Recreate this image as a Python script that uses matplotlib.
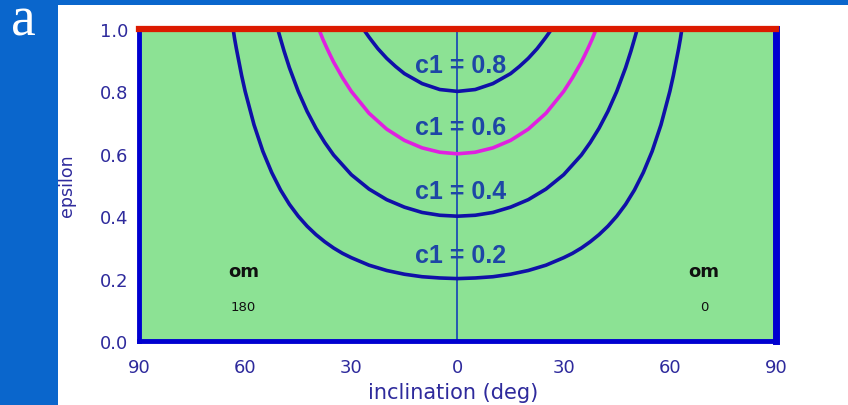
import matplotlib
matplotlib.use("Agg")
import matplotlib.pyplot as plt
from matplotlib.patches import Rectangle

# ---- data ----
c1_labels = ["c1 = 0.2", "c1 = 0.4", "c1 = 0.6", "c1 = 0.8"]
label_eps = [0.275, 0.48, 0.685, 0.885]

inc_02 = [-63.4, -63, -62.5, -61, -60, -57.5, -55, -52.5, -50, -47.5, -45, -42.5, -40, -37.5, -35,
          -32.5, -30, -25, -20, -15, -10, -5, 0,
          5, 10, 15, 20, 25, 30, 32.5, 35, 37.5, 40, 42.5, 45, 47.5, 50, 52.5, 55, 57.5, 60,
          61, 62.5, 63, 63.4]
eps_02 = [1.0, 0.970, 0.938, 0.851, 0.800, 0.693, 0.608, 0.540, 0.484, 0.438, 0.400, 0.368, 0.341, 0.318, 0.298,
          0.281, 0.267, 0.243, 0.226, 0.214, 0.206, 0.202, 0.200,
          0.202, 0.206, 0.214, 0.226, 0.243, 0.267, 0.281, 0.298, 0.318, 0.341, 0.368, 0.400, 0.438, 0.484, 0.540, 0.608, 0.693, 0.800,
          0.851, 0.938, 0.970, 1.0]

inc_04 = [-50.8, -50, -49, -47.5, -45, -42.5, -40, -37.5, -35, -30, -25, -20, -15, -10, -5, 0,
          5, 10, 15, 20, 25, 30, 35, 37.5, 40, 42.5, 45, 47.5, 49, 50, 50.8]
eps_04 = [1.0, 0.968, 0.929, 0.876, 0.800, 0.736, 0.682, 0.636, 0.596, 0.533, 0.487, 0.453, 0.429, 0.412, 0.403, 0.400,
          0.403, 0.412, 0.429, 0.453, 0.487, 0.533, 0.596, 0.636, 0.682, 0.736, 0.800, 0.876, 0.929, 0.968, 1.0]

inc_06 = [-39.2, -38, -37, -36, -35, -32.5, -30, -25, -20, -15, -10, -5, 0,
          5, 10, 15, 20, 25, 30, 32.5, 35, 36, 37, 38, 39.2]
eps_06 = [1.0, 0.966, 0.941, 0.917, 0.894, 0.844, 0.800, 0.730, 0.679, 0.643, 0.619, 0.605, 0.600,
          0.605, 0.619, 0.643, 0.679, 0.730, 0.800, 0.844, 0.894, 0.917, 0.941, 0.966, 1.0]

inc_08 = [-26.6, -26, -25, -24, -22.5, -20, -17.5, -15, -10, -5, 0,
          5, 10, 15, 17.5, 20, 22.5, 24, 25, 26, 26.6]
eps_08 = [1.0, 0.990, 0.974, 0.959, 0.937, 0.906, 0.880, 0.857, 0.825, 0.806, 0.800,
          0.806, 0.825, 0.857, 0.880, 0.906, 0.937, 0.959, 0.974, 0.990, 1.0]

x_ticks = [-90, -60, -30, 0, 30, 60, 90]
x_tick_labels = ["90", "60", "30", "0", "30", "60", "90"]
y_ticks = [0.0, 0.2, 0.4, 0.6, 0.8, 1.0]
y_tick_labels = ["0.0", "0.2", "0.4", "0.6", "0.8", "1.0"]

# ---- styles ----
BAND = "#0a66cc"
GREEN = "#8ce294"
NAVY = "#1010a8"
MAGENTA = "#e020e0"
LABEL = "#1e46a6"
TICK = "#2e2a9c"
SPINE = "#0000d0"
RED = "#dc1a00"

fig = plt.figure(figsize=(8.48, 4.06), dpi=100)
fig.patch.set_facecolor("white")
fig.patches.append(Rectangle((0, 0), 58 / 848, 1, transform=fig.transFigure,
                             facecolor=BAND, edgecolor="none", zorder=0))
fig.patches.append(Rectangle((0, 1 - 6 / 406), 1, 6 / 406, transform=fig.transFigure,
                             facecolor=BAND, edgecolor="none", zorder=0))
fig.text(23 / 848, 1 - 36 / 406, "a", color="white", fontsize=40,
         family="Liberation Serif", ha="center", va="baseline")

ax = fig.add_axes([139 / 848, 1 - 342 / 406, 637 / 848, 312 / 406])
ax.set_facecolor(GREEN)
ax.set_xlim(-90, 90)
ax.set_ylim(0, 1)

curves = [(inc_02, eps_02, NAVY), (inc_04, eps_04, NAVY),
          (inc_06, eps_06, MAGENTA), (inc_08, eps_08, NAVY)]
for inc, eps, col in curves:
    ax.plot(inc, eps, color=col, lw=2.6, solid_joinstyle="round", zorder=3)

ax.plot([0, 0], [0, 1], color="#1440b8", lw=1.2, zorder=2)
ax.axhline(1.0, color=RED, lw=4.5, zorder=5, clip_on=False)

for lab, ye in zip(c1_labels, label_eps):
    ax.text(1.0, ye, lab, color=LABEL, fontsize=18, fontweight="bold",
            family="Liberation Sans", ha="center", va="center", zorder=4)

ax.text(-60.5, 0.225, "om", color="#101010", fontsize=13, fontweight="bold",
        family="DejaVu Sans", ha="center", va="center")
ax.text(-60.5, 0.112, "180", color="#101010", fontsize=9.5,
        family="DejaVu Sans", ha="center", va="center")
ax.text(69.7, 0.225, "om", color="#101010", fontsize=13, fontweight="bold",
        family="DejaVu Sans", ha="center", va="center")
ax.text(69.7, 0.112, "0", color="#101010", fontsize=9.5,
        family="DejaVu Sans", ha="center", va="center")

for side in ["left", "right", "bottom"]:
    ax.spines[side].set_color(SPINE)
ax.spines["left"].set_linewidth(3.5)
ax.spines["bottom"].set_linewidth(3.5)
ax.spines["right"].set_linewidth(5)
ax.spines["top"].set_visible(False)

ax.set_xticks(x_ticks)
ax.set_xticklabels(x_tick_labels)
ax.set_yticks(y_ticks)
ax.set_yticklabels(y_tick_labels)
ax.tick_params(length=0, colors=TICK, labelsize=13)
ax.tick_params(axis="x", pad=12)
ax.tick_params(axis="y", pad=8)

ax.set_xlabel("inclination (deg)", color=TICK, fontsize=15, va="center")
ax.xaxis.set_label_coords(0.4925, -(393 - 342) / 312)
ax.set_ylabel("epsilon", color=TICK, fontsize=12.5, va="center")
ax.yaxis.set_label_coords(-(139 - 67) / 637, 0.5)

fig.savefig("out.png", dpi=100)
